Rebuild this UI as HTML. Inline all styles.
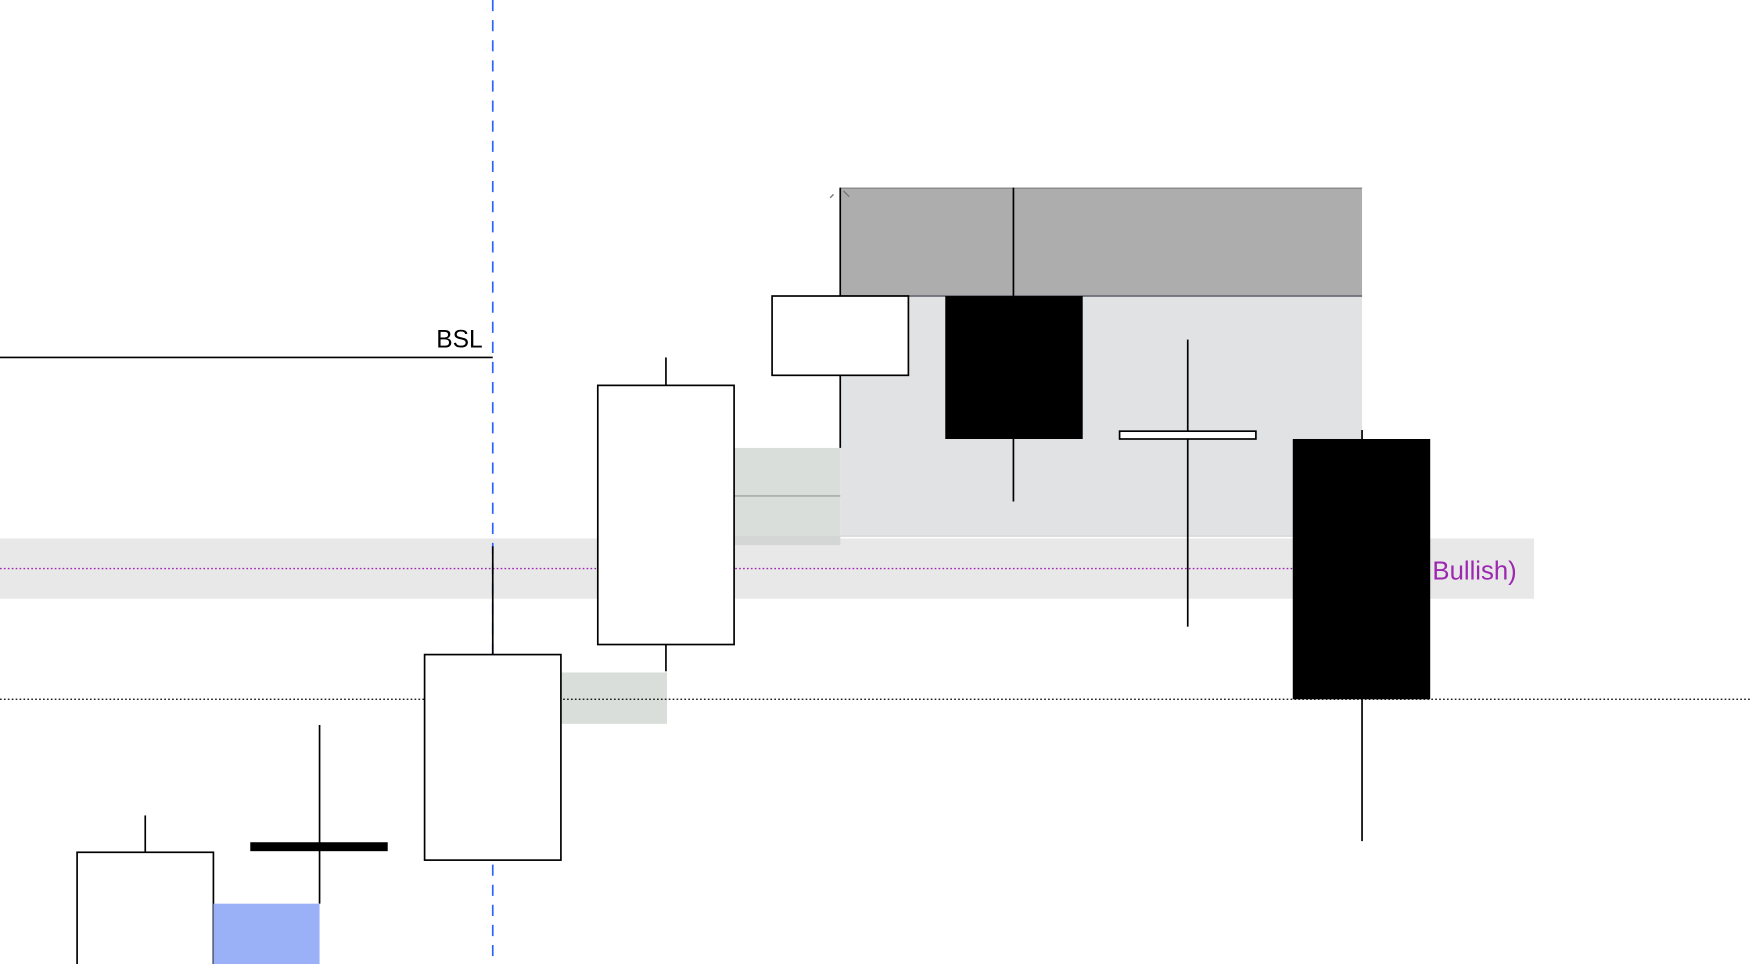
<!DOCTYPE html>
<html><head><meta charset="utf-8"><style>
html,body{margin:0;padding:0;background:#fff;width:1752px;height:964px;overflow:hidden}
svg{display:block}
text{font-family:"Liberation Sans",sans-serif}
</style></head><body>
<svg width="1752" height="964" viewBox="0 0 1568 863" preserveAspectRatio="none" xmlns="http://www.w3.org/2000/svg">
<rect x="0" y="482" width="1373" height="54" fill="#e8e8e8"/>
<rect x="752" y="265" width="467" height="215" fill="#e1e2e4"/>
<line x1="752" y1="480" x2="1219" y2="480" stroke="#d0d2d4" stroke-width="1"/>
<rect x="752" y="168" width="467" height="97" fill="#adadad"/>
<line x1="752" y1="168.5" x2="1219" y2="168.5" stroke="#808080" stroke-width="1"/>
<line x1="752" y1="265" x2="1219" y2="265" stroke="#6e6e7a" stroke-width="1.5"/>
<rect x="657" y="401" width="95" height="87" fill="#d9dedb"/>
<line x1="657" y1="444" x2="752" y2="444" stroke="#a0a4a0" stroke-width="1.2"/>
<rect x="657" y="480" width="95" height="8" fill="#d3d6d4"/>
<rect x="502" y="602" width="95" height="46" fill="#d9dedb"/>
<line x1="0" y1="509" x2="1280" y2="509" stroke="#9c27b0" stroke-width="1.2" stroke-dasharray="1.5 2"/>
<line x1="0" y1="626" x2="1568" y2="626" stroke="#000" stroke-width="1.2" stroke-dasharray="1.5 2"/>
<line x1="441" y1="0" x2="441" y2="863" stroke="#2962ff" stroke-width="1.5" stroke-dasharray="10 8"/>
<line x1="0" y1="320" x2="441" y2="320" stroke="#000" stroke-width="1.5"/>
<text x="432" y="311" font-size="22" text-anchor="end" fill="#000">BSL</text>
<text x="1282" y="519" font-size="23" fill="#9c27b0">Bullish)</text>
<path d="M743 177 L746 174 M755 171 L760 176" stroke="#777" stroke-width="1.2"/>
<g stroke="#000" stroke-width="1.5" fill="#fff">
<line x1="130" y1="730" x2="130" y2="763"/>
<rect x="69" y="763" width="122" height="110"/>
<rect x="191" y="809" width="95" height="60" fill="#9ab0f7" stroke="none"/>
<line x1="286" y1="649" x2="286" y2="809"/>
<rect x="224" y="754" width="123" height="8" fill="#000" stroke="none"/>
<line x1="441" y1="489" x2="441" y2="586"/>
<rect x="380" y="586" width="122" height="184"/>
<line x1="596" y1="320" x2="596" y2="345"/>
<line x1="596" y1="577" x2="596" y2="601"/>
<rect x="535" y="345" width="122" height="232"/>
<line x1="752" y1="168" x2="752" y2="401"/>
<rect x="691" y="265" width="122" height="71"/>
<line x1="907" y1="168" x2="907" y2="449"/>
<rect x="846" y="265" width="123" height="128" fill="#000" stroke="none"/>
<line x1="1063" y1="304" x2="1063" y2="561"/>
<rect x="1002" y="386" width="122" height="7"/>
<line x1="1219" y1="385" x2="1219" y2="753"/>
<rect x="1157" y="393" width="123" height="233" fill="#000" stroke="none"/>
</g>
</svg>
</body></html>
